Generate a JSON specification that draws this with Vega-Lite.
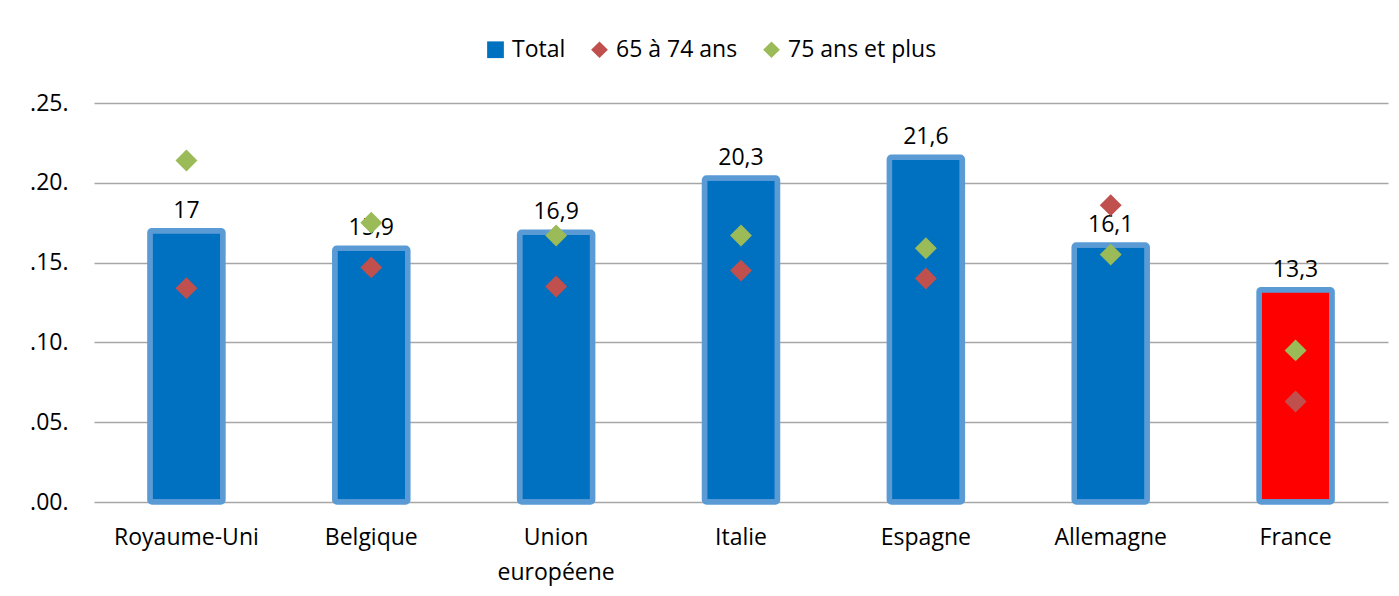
{
  "$schema": "https://vega.github.io/schema/vega-lite/v6.json",
  "width": 1294,
  "height": 399,
  "autosize": {"type": "none"},
  "padding": {"left": 94, "top": 103, "right": 11, "bottom": 94},
  "background": "white",
  "config": {
    "view": {"stroke": null},
    "font": "Open Sans",
    "axis": {"labelFont": "Open Sans", "labelFontSize": 23, "labelColor": "#000000"},
    "legend": {"labelFont": "Open Sans", "labelFontSize": 23, "labelColor": "#000000"}
  },
  "data": {
    "values": [
      {"country": "Royaume-Uni", "series": "Total", "value": 17.0, "label": "17"},
      {"country": "Belgique", "series": "Total", "value": 15.9, "label": "15,9"},
      {"country": "Union européene", "series": "Total", "value": 16.9, "label": "16,9"},
      {"country": "Italie", "series": "Total", "value": 20.3, "label": "20,3"},
      {"country": "Espagne", "series": "Total", "value": 21.6, "label": "21,6"},
      {"country": "Allemagne", "series": "Total", "value": 16.1, "label": "16,1"},
      {"country": "France", "series": "Total", "value": 13.3, "label": "13,3"},
      {"country": "Royaume-Uni", "series": "65 à 74 ans", "value": 13.4},
      {"country": "Belgique", "series": "65 à 74 ans", "value": 14.7},
      {"country": "Union européene", "series": "65 à 74 ans", "value": 13.5},
      {"country": "Italie", "series": "65 à 74 ans", "value": 14.5},
      {"country": "Espagne", "series": "65 à 74 ans", "value": 14.0},
      {"country": "Allemagne", "series": "65 à 74 ans", "value": 18.6},
      {"country": "France", "series": "65 à 74 ans", "value": 6.3},
      {"country": "Royaume-Uni", "series": "75 ans et plus", "value": 21.4},
      {"country": "Belgique", "series": "75 ans et plus", "value": 17.5},
      {"country": "Union européene", "series": "75 ans et plus", "value": 16.7},
      {"country": "Italie", "series": "75 ans et plus", "value": 16.7},
      {"country": "Espagne", "series": "75 ans et plus", "value": 15.9},
      {"country": "Allemagne", "series": "75 ans et plus", "value": 15.5},
      {"country": "France", "series": "75 ans et plus", "value": 9.5}
    ]
  },
  "encoding": {
    "x": {
      "field": "country",
      "type": "nominal",
      "sort": null,
      "scale": {"domain": ["Royaume-Uni", "Belgique", "Union européene", "Italie", "Espagne", "Allemagne", "France"], "paddingInner": 0, "paddingOuter": 0},
      "axis": {
        "title": null,
        "labelAngle": 0,
        "ticks": false,
        "domain": false,
        "grid": false,
        "labelPadding": 24,
        "labelLineHeight": 35,
        "labelExpr": "datum.label == 'Union européene' ? ['Union', 'européene'] : datum.label"
      }
    },
    "y": {
      "field": "value",
      "type": "quantitative",
      "scale": {"domain": [0, 25], "nice": false},
      "axis": {
        "title": null,
        "values": [0, 5, 10, 15, 20, 25],
        "ticks": false,
        "domain": false,
        "grid": true,
        "gridColor": "#A6A6A6",
        "gridWidth": 1.3,
        "labelPadding": 26,
        "labelExpr": "'.' + (datum.value < 10 ? '0' : '') + datum.value + '.'"
      }
    }
  },
  "resolve": {"legend": {"color": "independent", "shape": "independent"}},
  "layer": [
    {
      "transform": [{"filter": "datum.series === 'Total'"}],
      "mark": {"type": "bar", "size": 73, "stroke": "#5B9BD5", "strokeWidth": 5.5, "cornerRadius": 2},
      "encoding": {
        "color": {
          "condition": {"test": "datum.country === 'France'", "value": "#FF0000"},
          "field": "series",
          "type": "nominal",
          "title": null,
          "scale": {"domain": ["Total", "65 à 74 ans", "75 ans et plus"], "range": ["#0070C0", "#C0504D", "#9BBB59"]},
          "legend": null
        }
      }
    },
    {
      "transform": [{"filter": "datum.series === 'Total'"}],
      "mark": {"type": "text", "fontSize": 23, "baseline": "alphabetic", "dy": -13, "color": "#000000"},
      "encoding": {"text": {"field": "label"}}
    },
    {
      "transform": [{"filter": "datum.series !== 'Total'"}],
      "mark": {"type": "point", "filled": true, "size": 480, "opacity": 1},
      "encoding": {
        "color": {
          "field": "series",
          "type": "nominal",
          "title": null,
          "legend": {
            "orient": "none",
            "direction": "horizontal",
            "legendX": 390,
            "legendY": -65,
            "columnPadding": 22,
            "labelOffset": 5,
            "symbolSize": 280,
            "values": ["Total", "65 à 74 ans", "75 ans et plus"],
            "encode": {
              "symbols": {
                "stroke": {"condition": {"test": "datum.value === 'Total'", "value": "#5B9BD5"}, "value": "transparent"},
                "strokeWidth": {"condition": {"test": "datum.value === 'Total'", "value": 4}, "value": 0},
                "opacity": {"value": 1}
              }
            }
          }
        },
        "shape": {
          "field": "series",
          "type": "nominal",
          "title": null,
          "scale": {"domain": ["Total", "65 à 74 ans", "75 ans et plus"], "range": ["square", "diamond", "diamond"]},
          "legend": {
            "orient": "none",
            "direction": "horizontal",
            "legendX": 390,
            "legendY": -65,
            "columnPadding": 22,
            "labelOffset": 5,
            "symbolSize": 280,
            "values": ["Total", "65 à 74 ans", "75 ans et plus"],
            "encode": {
              "symbols": {
                "stroke": {"condition": {"test": "datum.value === 'Total'", "value": "#5B9BD5"}, "value": "transparent"},
                "strokeWidth": {"condition": {"test": "datum.value === 'Total'", "value": 4}, "value": 0},
                "opacity": {"value": 1}
              }
            }
          }
        }
      }
    }
  ]
}
